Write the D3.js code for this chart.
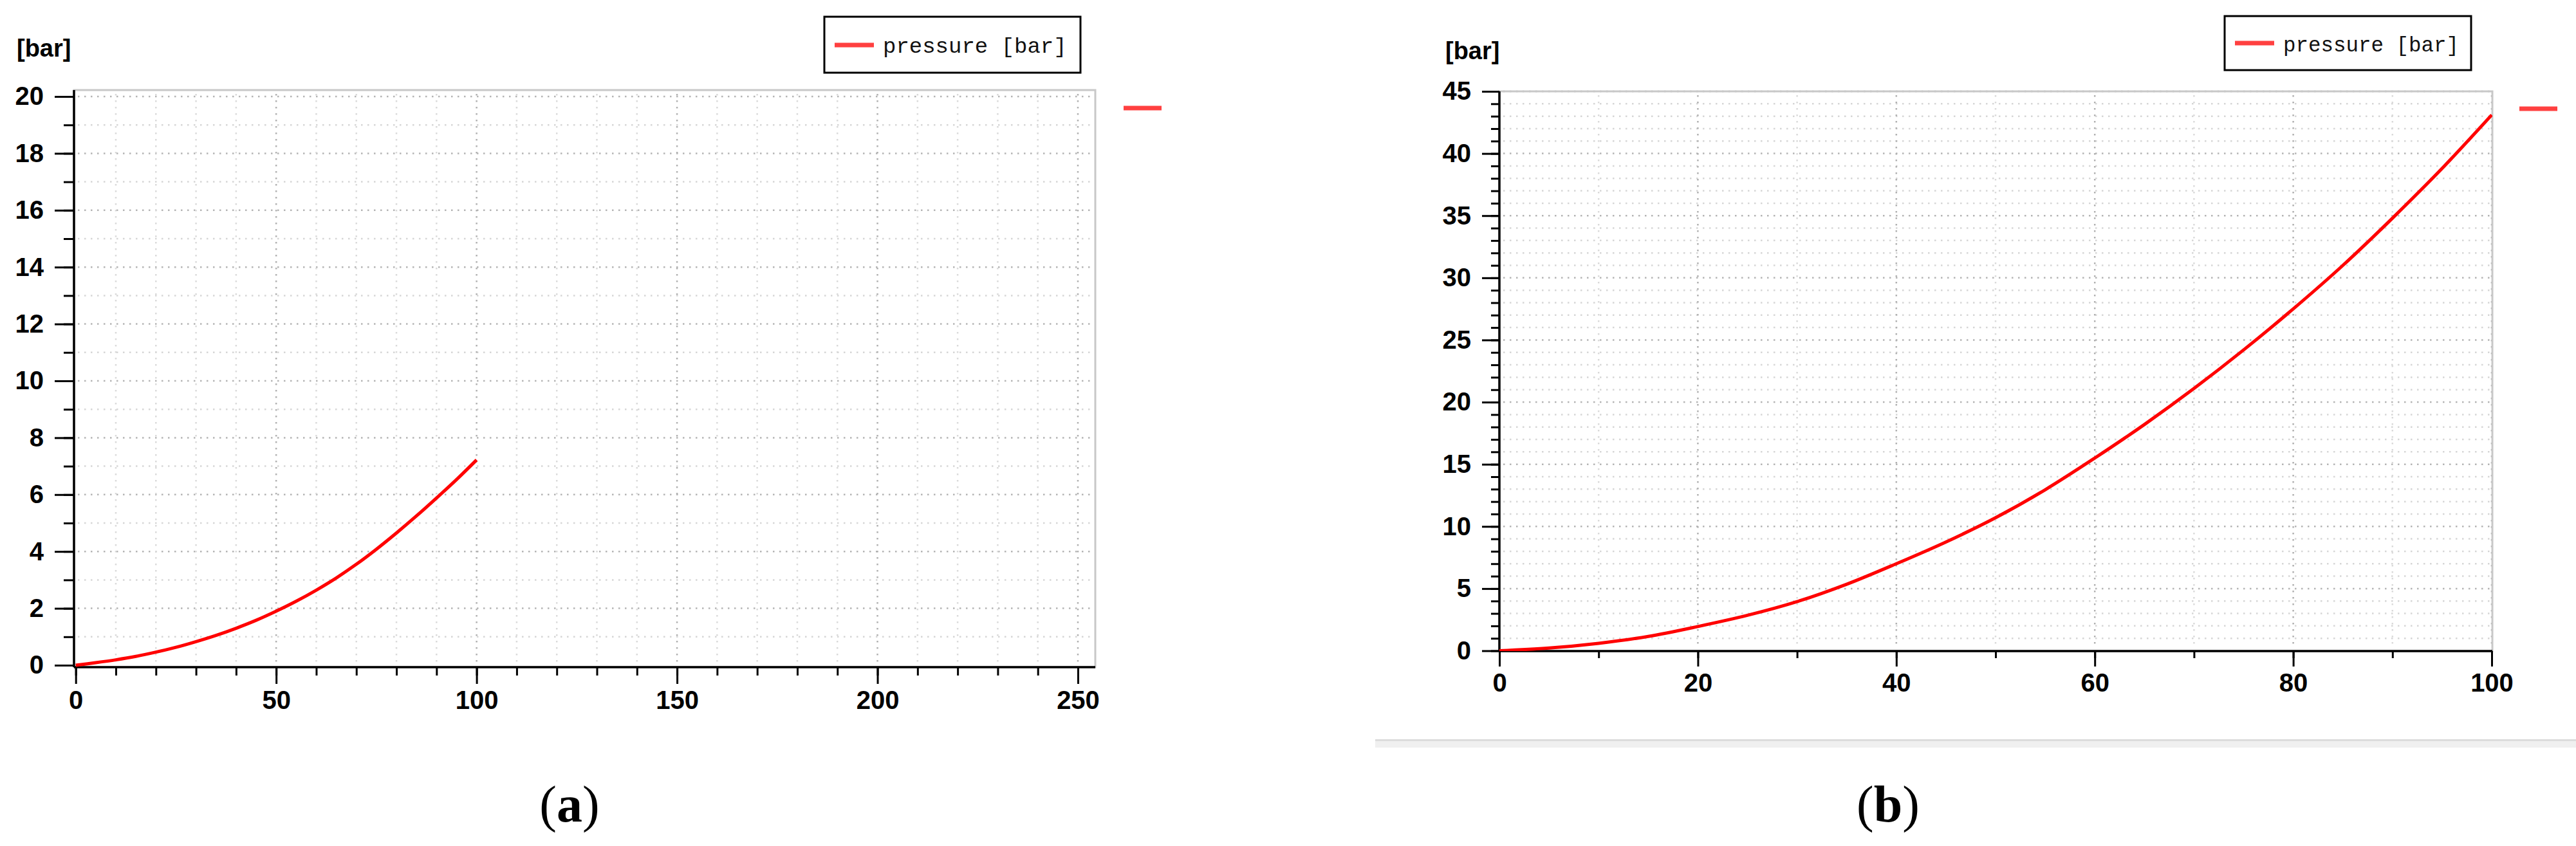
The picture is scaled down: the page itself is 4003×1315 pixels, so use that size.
<!DOCTYPE html>
<html>
<head>
<meta charset="utf-8">
<script src="https://cdn.jsdelivr.net/npm/d3@7"></script>
<style>
  html, body { margin: 0; background: #fff; }
  svg { display: block; }
  .tick text { font-family: 'Liberation Sans', Arial, sans-serif; font-weight: bold; fill: #000; }
  .tick line { stroke: #000; stroke-width: 3; }
</style>
</head>
<body>
<div class="canvas"></div>
<script>
// values
const timeSteps = [0, 5, 10, 15, 20, 25, 30, 35, 40, 45, 50, 55, 60, 65, 70, 75, 80, 85, 90, 95, 100]
const pressureA = [0, 0.09, 0.19, 0.31, 0.46, 0.63, 0.83, 1.05, 1.3, 1.58, 1.9, 2.25, 2.64, 3.07, 3.55, 4.08, 4.65, 5.25, 5.88, 6.53, 7.22]
const pressureB = [0, 0.22, 0.6, 1.15, 1.95, 2.85, 3.95, 5.35, 7.0, 8.75, 10.7, 12.95, 15.5, 18.2, 21.1, 24.2, 27.5, 31.0, 34.8, 38.8, 43.1]

const xTicksA = [0, 50, 100, 150, 200, 250]
const yTicksA = [0, 2, 4, 6, 8, 10, 12, 14, 16, 18, 20]
const xTicksB = [0, 20, 40, 60, 80, 100]
const yTicksB = [0, 5, 10, 15, 20, 25, 30, 35, 40, 45]

const seriesName = 'pressure [bar]'
const unitLabel = '[bar]'
const captionLetters = ['a', 'b']

const svg = d3.select('.canvas')
  .append('svg')
  .attr('width', 4003)
  .attr('height', 1315)

class PressurePlot {
  constructor(id, opts) {
    this.opts = opts
    this.g = svg.append('g').attr('class', `panel-${id}`)
    this.x = d3.scaleLinear().domain(opts.xDomain).range(opts.xRange)
    this.y = d3.scaleLinear().domain(opts.yDomain).range(opts.yRange)
    this.id = id
  }

  draw(values) {
    this.drawGrid()
    this.drawFrame()
    this.drawAxes()
    this.drawCurve(values)
    this.drawLabels()
  }

  drawGrid() {
    const {frame, xMinorStep, yMinorStep, xTicks, yTicks} = this.opts
    const xMinor = this.x.ticks((this.x.domain()[1] - this.x.domain()[0]) / xMinorStep)
    const yMinor = this.y.ticks((this.y.domain()[1] - this.y.domain()[0]) / yMinorStep)
    const grid = this.g.append('g').attr('class', 'grid')
      .attr('stroke-width', 2.5)
      .attr('stroke-dasharray', '2.5 7.5')

    grid.selectAll('.h').data(yMinor.filter(v => v > 0))
      .enter().append('line')
      .attr('x1', frame.left + 6).attr('x2', frame.right - 4)
      .attr('y1', d => this.y(d)).attr('y2', d => this.y(d))
      .attr('stroke', d => yTicks.includes(d) ? '#b4b4b4' : '#d6d6d6')

    grid.selectAll('.v').data(xMinor.filter(v => v > 0))
      .enter().append('line')
      .attr('y1', frame.top + 6).attr('y2', frame.bottom - 4)
      .attr('x1', d => this.x(d)).attr('x2', d => this.x(d))
      .attr('stroke', d => xTicks.includes(d) ? '#b0b0b0' : '#dadada')
  }

  drawFrame() {
    const {frame} = this.opts
    this.g.append('rect')
      .attr('x', frame.left).attr('y', frame.top)
      .attr('width', frame.right - frame.left)
      .attr('height', frame.bottom - frame.top)
      .attr('fill', 'none')
      .attr('stroke', '#c8c8c8')
      .attr('stroke-width', 3)
  }

  drawAxes() {
    const o = this.opts
    const xMinor = this.x.ticks((o.xDomain[1] - o.xDomain[0]) / o.xMinorStep)
    const yMinor = this.y.ticks((o.yDomain[1] - o.yDomain[0]) / o.yMinorStep)

    const addAxis = (axis, transform) => {
      const sel = this.g.append('g')
        .attr('transform', transform)
        .call(axis)
      sel.select('.domain').remove()
      sel.selectAll('text').attr('font-size', o.tickFont)
      return sel
    }

    addAxis(d3.axisLeft(this.y).tickValues(yMinor).tickSize(o.yMinorLen).tickFormat(''),
      `translate(${o.frame.left},0)`)
    addAxis(d3.axisLeft(this.y).tickValues(o.yTicks).tickSize(o.yMajorLen).tickPadding(17),
      `translate(${o.frame.left},0)`)
    addAxis(d3.axisBottom(this.x).tickValues(xMinor).tickSize(o.xMinorLen).tickFormat(''),
      `translate(0,${o.frame.bottom})`)
    addAxis(d3.axisBottom(this.x).tickValues(o.xTicks).tickSize(o.xMajorLen).tickPadding(11),
      `translate(0,${o.frame.bottom})`)

    this.g.append('line')
      .attr('x1', o.frame.left).attr('x2', o.frame.left)
      .attr('y1', o.frame.top).attr('y2', o.frame.bottom)
      .attr('stroke', '#000').attr('stroke-width', 3.5)
    this.g.append('line')
      .attr('x1', o.frame.left).attr('x2', o.frame.right)
      .attr('y1', o.frame.bottom).attr('y2', o.frame.bottom)
      .attr('stroke', '#000').attr('stroke-width', 3.5)
  }

  drawCurve(values) {
    const {frame} = this.opts
    this.g.append('clipPath').attr('id', `clip-${this.id}`)
      .append('rect')
      .attr('x', frame.left).attr('y', frame.top)
      .attr('width', frame.right - frame.left)
      .attr('height', frame.bottom - frame.top)

    const makeLine = d3.line()
      .x((d, i) => this.x(timeSteps[i]))
      .y(d => this.y(d))
      .curve(d3.curveCatmullRom)

    this.g.append('path')
      .datum(values)
      .attr('clip-path', `url(#clip-${this.id})`)
      .attr('d', makeLine)
      .attr('fill', 'none')
      .attr('stroke', '#ff0000')
      .attr('stroke-width', 5)
  }

  drawLabels() {
    const {unit, legend, dash, caption} = this.opts

    this.g.append('text')
      .attr('x', unit.x).attr('y', unit.y)
      .attr('font-family', "'Liberation Sans', Arial, sans-serif")
      .attr('font-weight', 'bold')
      .attr('font-size', 38)
      .text(unitLabel)

    this.g.append('rect')
      .attr('x', legend.x).attr('y', legend.y)
      .attr('width', legend.w).attr('height', legend.h)
      .attr('fill', '#fff')
      .attr('stroke', '#000')
      .attr('stroke-width', 3)
    this.g.append('line')
      .attr('x1', legend.x + 16).attr('x2', legend.x + 77)
      .attr('y1', legend.lineY).attr('y2', legend.lineY)
      .attr('stroke', '#ff4040').attr('stroke-width', 7)
    this.g.append('text')
      .attr('x', legend.x + 91).attr('y', legend.textY)
      .attr('font-family', "'Liberation Mono', 'Courier New', monospace")
      .attr('font-size', legend.size)
      .attr('fill', '#111')
      .text(seriesName)

    this.g.append('line')
      .attr('x1', dash.x).attr('x2', dash.x + 59)
      .attr('y1', dash.y).attr('y2', dash.y)
      .attr('stroke', '#ff4040').attr('stroke-width', 7)

    const cap = this.g.append('text')
      .attr('x', caption.x).attr('y', caption.y)
      .attr('text-anchor', 'middle')
      .attr('font-family', "'Liberation Serif', 'Times New Roman', serif")
      .attr('font-size', 80)
    cap.append('tspan').text('(')
    cap.append('tspan').attr('font-weight', 'bold').text(caption.letter)
    cap.append('tspan').text(')')
  }
}

const panelA = new PressurePlot('a', {
  xDomain: [0, 250], xRange: [117.7, 1675],
  yDomain: [0, 20], yRange: [1034, 150],
  frame: {left: 115, top: 140, right: 1702, bottom: 1037},
  xTicks: xTicksA, yTicks: yTicksA,
  xMinorStep: 10, yMinorStep: 1,
  yMajorLen: 30, yMinorLen: 16, xMajorLen: 26, xMinorLen: 13,
  tickFont: 40,
  unit: {x: 26, y: 88},
  legend: {x: 1281, y: 26, w: 398, h: 87, lineY: 70, textY: 82, size: 34},
  dash: {x: 1746, y: 168},
  caption: {x: 885, y: 1277, letter: captionLetters[0]}
})
panelA.draw(pressureA)

const panelB = new PressurePlot('b', {
  xDomain: [0, 100], xRange: [2330, 3872],
  yDomain: [0, 45], yRange: [1011.5, 142],
  frame: {left: 2330, top: 142, right: 3873, bottom: 1012},
  xTicks: xTicksB, yTicks: yTicksB,
  xMinorStep: 10, yMinorStep: 1,
  yMajorLen: 27, yMinorLen: 13, xMajorLen: 24, xMinorLen: 11,
  tickFont: 40,
  unit: {x: 2246, y: 92},
  legend: {x: 3457, y: 25, w: 383, h: 84, lineY: 67, textY: 80, size: 32.5},
  dash: {x: 3915, y: 169},
  caption: {x: 2934, y: 1277, letter: captionLetters[1]}
})
panelB.draw(pressureB)

// thin rule under the second screenshot
svg.append('rect').attr('x', 2137).attr('y', 1149).attr('width', 1866).attr('height', 3).attr('fill', '#dcdcdc')
svg.append('rect').attr('x', 2137).attr('y', 1152).attr('width', 1866).attr('height', 10).attr('fill', '#f0f0f0')
</script>
</body>
</html>
